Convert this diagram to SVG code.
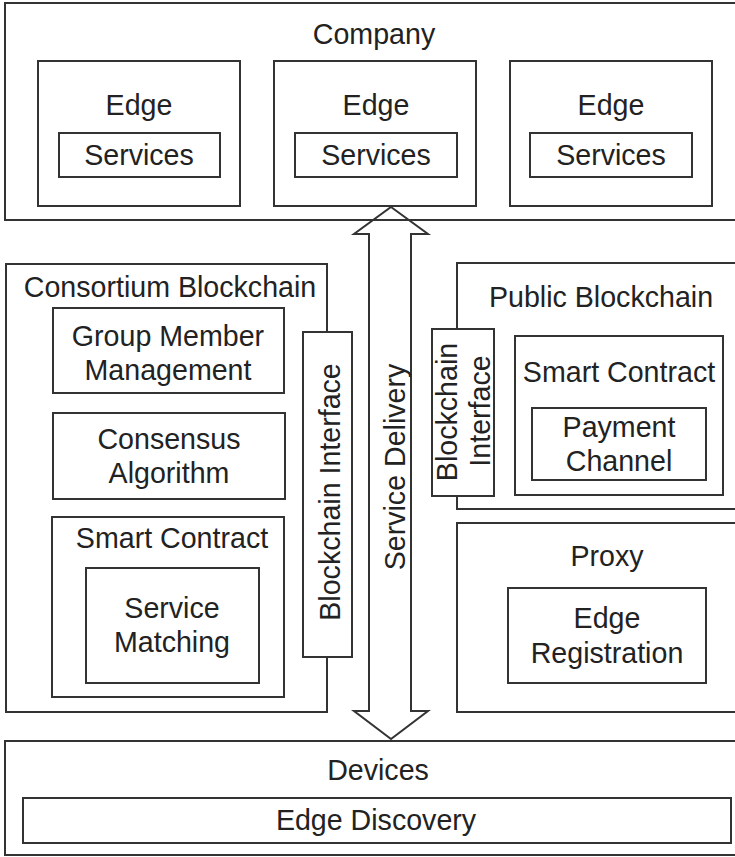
<svg xmlns="http://www.w3.org/2000/svg" width="735" height="857" viewBox="0 0 735 857">
<style>
rect{fill:none;stroke:#333;stroke-width:2}
text{font-family:"Liberation Sans",Arial,sans-serif;font-size:28.6px;fill:#222;text-anchor:middle}
.conn{fill:none;stroke:#333;stroke-width:2;stroke-linejoin:miter}
</style>
<rect x="0" y="0" width="735" height="857" style="fill:#fff;stroke:none"/>
<g id="company">
<rect x="5" y="3" width="740" height="217"/>
<text x="374" y="44">Company</text>
</g>
<g id="edge1">
<rect x="38" y="61" width="202" height="145"/>
<text x="139" y="115">Edge</text>
<rect x="59" y="133" width="161" height="44"/>
<text x="139" y="165">Services</text>
</g>
<g id="edge2">
<rect x="274" y="61" width="202" height="145"/>
<text x="376" y="115">Edge</text>
<rect x="295" y="133" width="162" height="44"/>
<text x="376" y="165">Services</text>
</g>
<g id="edge3">
<rect x="510" y="61" width="202" height="145"/>
<text x="611" y="115">Edge</text>
<rect x="530" y="133" width="162" height="44"/>
<text x="611" y="165">Services</text>
</g>
<g id="consortium">
<rect x="6" y="264" width="321" height="448"/>
<text x="170" y="297">Consortium Blockchain</text>
</g>
<g id="group-member">
<rect x="53" y="308" width="231" height="85"/>
<text x="168" y="346">Group Member</text>
<text x="168" y="380">Management</text>
</g>
<g id="consensus">
<rect x="53" y="413" width="232" height="86"/>
<text x="169" y="449">Consensus</text>
<text x="169" y="483">Algorithm</text>
</g>
<g id="smart-contract-left">
<rect x="52" y="517" width="232" height="180"/>
<text x="172" y="548">Smart Contract</text>
</g>
<g id="service-matching">
<rect x="86" y="568" width="173" height="115"/>
<text x="172" y="618">Service</text>
<text x="172" y="652">Matching</text>
</g>
<g id="bi-left">
<rect x="303" y="332" width="49" height="325" style="fill:#fff"/>
<text transform="translate(340,492) rotate(-90)">Blockchain Interface</text>
</g>
<g id="public">
<rect x="457" y="263" width="290" height="246"/>
<text x="601" y="307">Public Blockchain</text>
</g>
<g id="bi-right">
<rect x="432" y="329" width="62" height="167" style="fill:#fff"/>
<text transform="translate(457,412) rotate(-90)">Blockchain</text>
<text transform="translate(490,411) rotate(-90)">Interface</text>
</g>
<g id="smart-contract-right">
<rect x="515" y="336" width="208" height="159"/>
<text x="619" y="382">Smart Contract</text>
</g>
<g id="payment-channel">
<rect x="532" y="408" width="174" height="72"/>
<text x="619" y="437">Payment</text>
<text x="619" y="471">Channel</text>
</g>
<g id="proxy">
<rect x="457" y="523" width="290" height="189"/>
<text x="607" y="566">Proxy</text>
</g>
<g id="edge-registration">
<rect x="508" y="588" width="198" height="95"/>
<text x="607" y="628">Edge</text>
<text x="607" y="663">Registration</text>
</g>
<g id="devices">
<rect x="5" y="741" width="740" height="114"/>
<text x="378" y="780">Devices</text>
</g>
<g id="edge-discovery">
<rect x="23" y="798" width="708" height="45"/>
<text x="376" y="830">Edge Discovery</text>
</g>
<g id="connectors">
<path class="conn" d="M391,207 L428,234 L411,234 L411,711 L428,711 L391,739 L354,711 L369,711 L369,234 L354,234 Z"/>
<text transform="translate(405,467) rotate(-90)">Service Delivery</text>
</g>
</svg>
